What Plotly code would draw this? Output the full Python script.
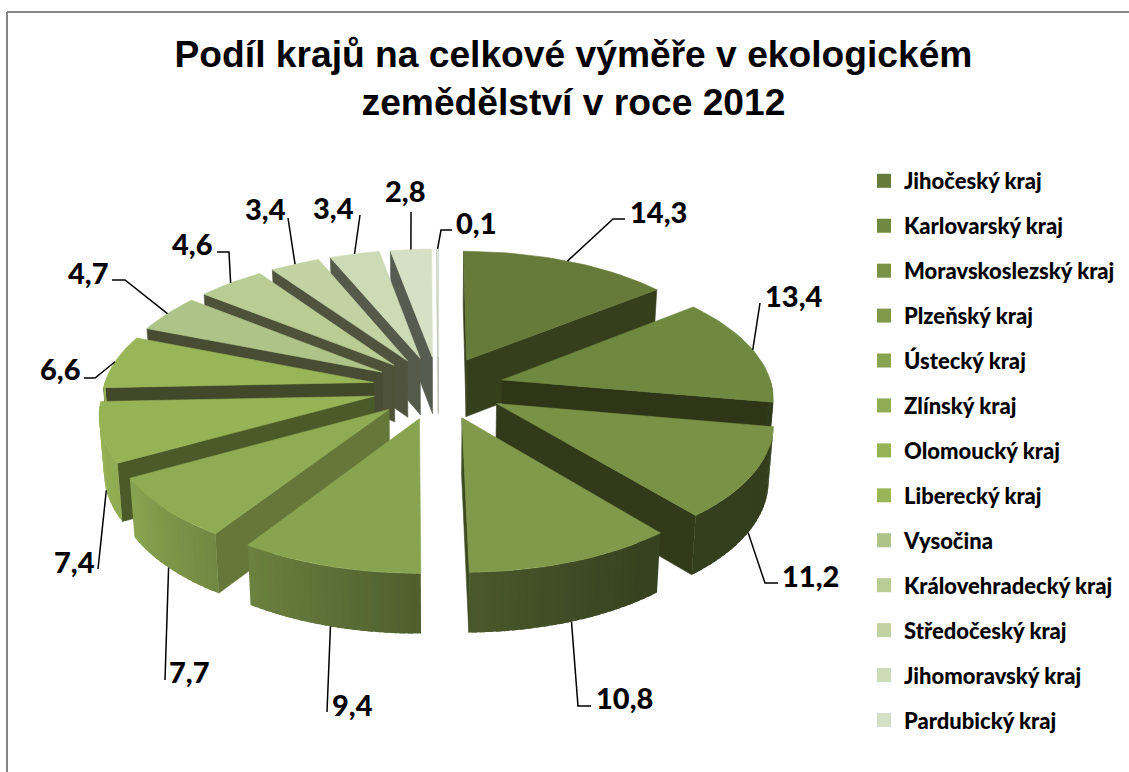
import numpy as np
import plotly.graph_objects as go

# data
kraje = ["Jihočeský kraj", "Karlovarský kraj", "Moravskoslezský kraj", "Plzeňský kraj",
         "Ústecký kraj", "Zlínský kraj", "Olomoucký kraj", "Liberecký kraj", "Vysočina",
         "Královehradecký kraj", "Středočeský kraj", "Jihomoravský kraj", "Pardubický kraj"]
podil = [14.3, 13.4, 11.2, 10.8, 9.4, 7.7, 7.4, 6.6, 4.7, 4.6, 3.4, 3.4, 2.8, 0.1]

# styles
top_colors = ["#667a39", "#6f8a40", "#799245", "#80994a", "#88a450", "#8fac54", "#96b356",
              "#98b658", "#adc387", "#b8cc94", "#c2d2a2", "#ccdab5", "#d6e0c4", "#e0e8d6"]
wall_colors = ["#363f1c", "#2f3618", "#313a19", "#3c4a20", "#46522a", "#66773a", "#4a5a28",
               "#42482a", "#484c33", "#4e5238", "#50543f", "#555a4a", "#565c50", "#b8bcb0"]
label_xy = [(658, 211), (793, 295), (810, 575), (624, 697), (352, 704), (189, 671), (74, 561),
            (60, 368), (88, 272), (192, 243), (265, 208), (333, 207), (405, 190), (476, 222)]
leader_rest = [[(613, 219), (625, 219)], [(760, 303)], [(765, 583), (778, 583)],
               [(578, 706), (591, 706)], [(327, 712)], [(165, 680)], [(98, 569)],
               [(95, 378), (84, 378)], [(125, 280), (112, 280)], [(229, 252), (217, 252)],
               [(288, 218)], [(360, 215)], [(411, 212)], [(441, 230), (452, 230)]]

# pie projection
CX, CY = 438.5, 387.6
SCALE_X, SCALE_Y = 270, 128
PERSP = 0.12
EXPLODE = 0.245
DEPTH = 57


def project(x, z, bottom=False):
    w = 1 + PERSP * z
    sx = CX + SCALE_X * x / w
    sy = CY - SCALE_Y * z / w
    if bottom:
        sx = CX + (sx - CX) * 0.985
        sy = sy + DEPTH / w ** 0.35
    return sx, sy


def shade(color, factor):
    r, g, b = int(color[1:3], 16), int(color[3:5], 16), int(color[5:7], 16)
    return f"rgb({r * factor:.0f},{g * factor:.0f},{b * factor:.0f})"


def rim_shade(deg):
    return np.interp(deg, [90, 145, 180, 213, 241, 270], [0.43, 0.43, 0.58, 0.79, 0.96, 1.0])


def area(pts):
    xs, ys = zip(*pts)
    return sum(xs[i] * ys[(i + 1) % len(pts)] - xs[(i + 1) % len(pts)] * ys[i] for i in range(len(pts)))


fig = go.Figure()


def add_poly(pts, color, width=0.6):
    fig.add_trace(go.Scatter(
        x=[p[0] for p in pts] + [pts[0][0]],
        y=[p[1] for p in pts] + [pts[0][1]],
        mode="lines", fill="toself", fillcolor=color,
        line=dict(color=color, width=width),
        hoverinfo="skip", showlegend=False,
    ))


edges = np.cumsum([0] + podil) / sum(podil) * 360
slices = []
for i in range(len(podil)):
    a0, a1 = edges[i], edges[i + 1]
    mid = np.radians((a0 + a1) / 2)
    slices.append((a0, a1, EXPLODE * np.sin(mid), EXPLODE * np.cos(mid), i))

# paint far slices first
for a0, a1, ox, oz, i in sorted(slices, key=lambda s: -np.cos(np.radians((s[0] + s[1]) / 2))):
    col = top_colors[i]

    def rim(deg, bottom=False):
        t = np.radians(deg)
        return project(ox + np.sin(t), oz + np.cos(t), bottom)

    apex, apex_b = project(ox, oz), project(ox, oz, True)

    # flat cut faces
    start = [apex, rim(a0), rim(a0, True), apex_b]
    end = [apex, rim(a1), rim(a1, True), apex_b]
    if area(start) < 0:
        add_poly(start, wall_colors[i])
    if area(end) > 0:
        add_poly(end, wall_colors[i])

    # outer wall, only the part facing the viewer, in small shaded facets that overlap
    w0, w1 = max(a0, 90), min(a1, 270)
    if w1 > w0:
        steps = np.linspace(w0, w1, int((w1 - w0) / 1.5) + 2)
        for d0, d1 in zip(steps[:-1], steps[1:]):
            d2 = min(d1 + 1.0, w1)
            add_poly([rim(d0), rim(d2), rim(d2, True), rim(d0, True)],
                     shade(col, rim_shade((d0 + d1) / 2)), width=0)

    # top
    arc = [rim(d) for d in np.linspace(a0, a1, max(int((a1 - a0) / 2) + 2, 3))]
    add_poly([apex] + arc, col)

# leader lines and value labels
for (a0, a1, ox, oz, i) in slices:
    t = np.radians((a0 + a1) / 2)
    front = 90 < np.degrees(t) < 270
    p0 = project(ox + np.sin(t), oz + np.cos(t), bool(front))
    pts = [p0] + leader_rest[i]
    fig.add_trace(go.Scatter(x=[p[0] for p in pts], y=[p[1] for p in pts], mode="lines",
                             line=dict(color="#000000", width=1.5),
                             hoverinfo="skip", showlegend=False))
    fig.add_annotation(x=label_xy[i][0], y=label_xy[i][1], text=f"{podil[i]:.1f}".replace(".", ","),
                       showarrow=False, xanchor="center", yanchor="middle",
                       font=dict(family="Lato", size=29, color="#000000", weight=900))

# legend entries
for i, name in enumerate(kraje):
    fig.add_trace(go.Scatter(x=[None], y=[None], mode="markers", name=name, legendgroup=name,
                             marker=dict(symbol="square", size=14, color=top_colors[i])))

fig.update_layout(
    width=1129, height=772,
    margin=dict(l=0, r=0, t=0, b=0),
    paper_bgcolor="#ffffff", plot_bgcolor="#ffffff",
    xaxis=dict(range=[0, 1129], visible=False, fixedrange=True),
    yaxis=dict(range=[772, 0], visible=False, fixedrange=True),
    title=dict(text="Podíl krajů na celkové výměře v ekologickém<br>zemědělství v roce 2012",
               x=573.5 / 1129, xanchor="center", y=1 - 67 / 772, yanchor="top",
               font=dict(family="Liberation Sans", size=37.2, color="#000000", weight="bold")),
    legend=dict(x=864 / 1129, y=1 - 160 / 772, xanchor="left", yanchor="top",
                tracegroupgap=13.33, itemwidth=30, bgcolor="rgba(0,0,0,0)",
                font=dict(family="Lato", size=22, color="#000000", weight=900)),
    shapes=[
        dict(type="line", x0=7, x1=1129, y0=12, y1=12, line=dict(color="#868686", width=2)),
        dict(type="line", x0=7, x1=7, y0=12, y1=772, line=dict(color="#868686", width=2)),
    ],
)

fig.write_html("out.html", config=dict(displayModeBar=False),
               post_script="document.body.style.margin='0';")
